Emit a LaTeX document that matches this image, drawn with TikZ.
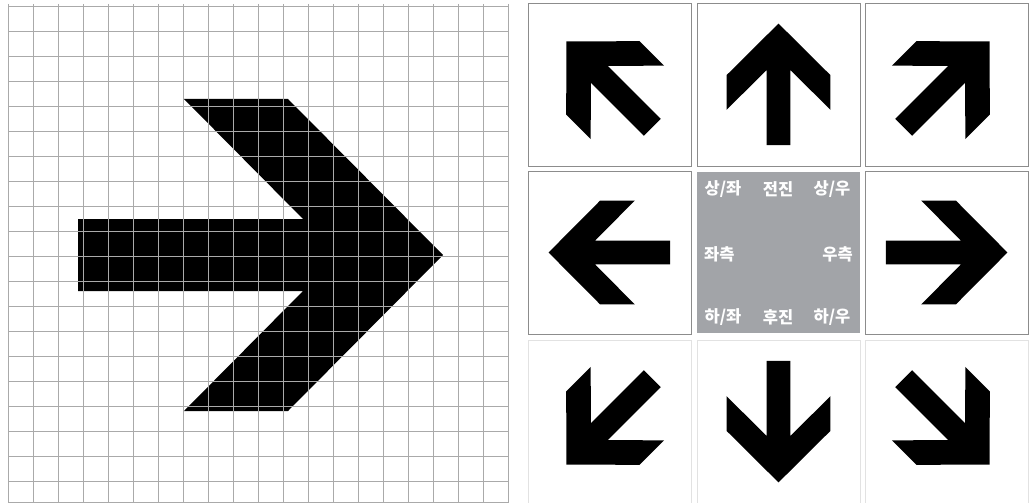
\documentclass[tikz,border=0pt]{standalone}
\usepackage{fontspec}
\newfontfamily\korfont{Noto Sans CJK KR}
\definecolor{gridgray}{RGB}{170,170,170}
\definecolor{framegray}{RGB}{140,140,140}
\definecolor{palegray}{RGB}{226,226,226}
\definecolor{padgray}{RGB}{162,164,168}
\tikzset{
  dirarrow/.pic={
    \fill[black] (183,0) -- (28,-156) -- (-76,-156) -- (43,-36) -- (-182,-36)
      -- (-182,36) -- (43,36) -- (-76,156) -- (28,156) -- cycle;
  },
  gridline/.style={gridgray, line width=0.8pt},
  cellbox/.style={draw=framegray, line width=0.9pt},
  palebox/.style={draw=palegray, line width=0.9pt},
  padlabel/.style={text=white, inner sep=0pt, font=\korfont\bfseries\fontsize{16.5}{18}\selectfont},
}
\begin{document}
\begin{tikzpicture}[x=1pt,y=-1pt]
\useasboundingbox (0,0) rectangle (1034,503);
% big arrow with grid on top
\pic at (260,255) {dirarrow};
\foreach \i in {0,...,20}{
  \draw[gridline] (8+25*\i,4) -- (8+25*\i,503);
}
\foreach \j in {0,...,19}{
  \draw[gridline] (8,6+25*\j) -- (508,6+25*\j);
}
\draw[gridline] (8,502) -- (508,502);
% direction pad
\foreach \cx/\cy/\ang/\sty in {609.5/84.5/135/cellbox, 778.5/84.5/90/cellbox, 946.5/84.5/45/cellbox,
    609.5/252.5/180/cellbox, 946.5/252.5/0/cellbox,
    609.5/421.5/225/palebox, 778.5/421.5/270/palebox, 946.5/421.5/315/palebox}{
  \draw[\sty] (\cx-81.5,\cy-81.5) rectangle (\cx+81.5,\cy+81.5);
  \pic[rotate=\ang, scale=0.333] at (\cx,\cy) {dirarrow};
}
\fill[padgray] (697,172) rectangle (860,333);
\node[padlabel] (upleft) at (723,189) {상/좌};
\node[padlabel] (forward) at (778,189) {전진};
\node[padlabel] (upright) at (832,189) {상/우};
\node[padlabel, anchor=west] (left) at (704,254) {좌측};
\node[padlabel, anchor=east] (right) at (853,254) {우측};
\node[padlabel] (downleft) at (723,317) {하/좌};
\node[padlabel] (backward) at (778,317) {후진};
\node[padlabel] (downright) at (832,317) {하/우};
\end{tikzpicture}
\end{document}
